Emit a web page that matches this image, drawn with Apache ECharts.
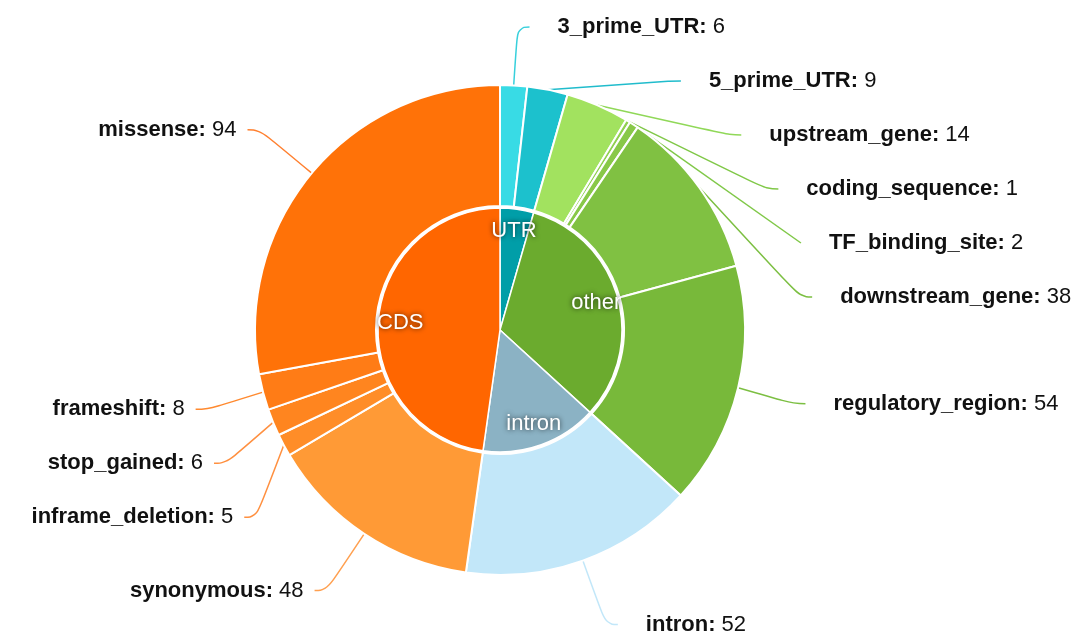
<!DOCTYPE html>
<html>
<head>
<meta charset="utf-8">
<script src="https://cdn.jsdelivr.net/npm/echarts@6/dist/echarts.min.js"></script>
<style>
  html, body { margin: 0; padding: 0; background: #fff; }
  #chart { width: 1083px; height: 642px; }
</style>
</head>
<body>
<div id="chart"></div>
<script>
// Variant consequence groups (inner ring)
const groupNames = ['UTR', 'other', 'intron', 'CDS'];
const groupColors = ['#009ea8', '#6bab2e', '#8bb2c4', '#ff6600'];

// Individual consequences (outer ring), clockwise from 12 o'clock
const consequenceNames = [
  '3_prime_UTR', '5_prime_UTR',
  'upstream_gene', 'coding_sequence', 'TF_binding_site', 'downstream_gene', 'regulatory_region',
  'intron',
  'synonymous', 'inframe_deletion', 'stop_gained', 'frameshift', 'missense'
];
const consequenceCounts = [6, 9, 14, 1, 2, 38, 54, 52, 48, 5, 6, 8, 94];
const consequenceGroup = [0, 0, 1, 1, 1, 1, 1, 2, 3, 3, 3, 3, 3];
const consequenceColors = [
  '#38dbe5', '#1cc1cd',
  '#a2e25f', '#90d050', '#88c848', '#80c142', '#78b93a',
  '#c2e7f9',
  '#ff9a36', '#ff8d28', '#ff851f', '#ff7c16', '#ff7208'
];
const lineColors = [
  '#38d0dc', '#20bccc',
  '#90d858', '#80c848', '#80c848', '#7cbf42', '#7cbf42',
  '#c2e7f9',
  '#ffa050', '#ff9040', '#ff9040', '#ff8a30', '#ff8030'
];

// Group totals summed from the consequences
const groupTotals = groupNames.map((_, g) =>
  consequenceCounts.reduce((s, v, i) => s + (consequenceGroup[i] === g ? v : 0), 0));

const innerData = groupNames.map((n, i) => ({
  name: n, value: groupTotals[i], itemStyle: { color: groupColors[i] }
}));
const outerData = consequenceNames.map((n, i) => ({
  name: n, value: consequenceCounts[i],
  itemStyle: { color: consequenceColors[i] },
  labelLine: { lineStyle: { color: lineColors[i] } }
}));

const chart = echarts.init(document.getElementById('chart'), null, { renderer: 'canvas' });
const FONT = '"Liberation Sans", Arial, Helvetica, sans-serif';

// Layout box a little taller than the page so outer labels may sit near the edges
const box = { left: 0, top: -40, width: 1083, height: 722 };
const center = [500, 370];

chart.setOption({
  animation: false,
  backgroundColor: '#ffffff',
  series: [
    Object.assign({
      type: 'pie',
      center: center,
      radius: [0, 122],
      startAngle: 90,
      clockwise: true,
      silent: true,
      label: { show: false },
      labelLine: { show: false },
      itemStyle: { borderColor: '#ffffff', borderWidth: 1.5 },
      data: innerData
    }, box),
    Object.assign({
      // label carrier for the inner ring, placed toward its rim
      type: 'pie',
      center: center,
      radius: [72, 122],
      startAngle: 90,
      clockwise: true,
      silent: true,
      z: 5,
      itemStyle: { color: 'rgba(0,0,0,0)', borderWidth: 0 },
      label: {
        show: true,
        position: 'inside',
        color: '#ffffff',
        fontFamily: FONT,
        fontSize: 22,
        textShadowColor: 'rgba(0,0,0,0.75)',
        textShadowBlur: 5,
        formatter: '{b}'
      },
      labelLine: { show: false },
      data: groupNames.map((n, i) => ({ name: n, value: groupTotals[i] }))
    }, box),
    Object.assign({
      type: 'pie',
      center: center,
      radius: [124, 245],
      startAngle: 90,
      clockwise: true,
      silent: true,
      avoidLabelOverlap: true,
      minShowLabelAngle: 0,
      itemStyle: { borderColor: '#ffffff', borderWidth: 2 },
      label: {
        show: true,
        position: 'outside',
        alignTo: 'none',
        fontFamily: FONT,
        fontSize: 22,
        color: '#111',
        lineHeight: 52,
        padding: [0, 0, 0, 17],
        distanceToLabelLine: 11,
        formatter: '{n|{b}:} {v|{c}}',
        rich: {
          n: { fontFamily: FONT, fontSize: 22, fontWeight: 'bold', color: '#111', lineHeight: 52 },
          v: { fontFamily: FONT, fontSize: 22, color: '#111', lineHeight: 52 }
        }
      },
      labelLine: {
        show: true,
        length: 68,
        length2: 12,
        smooth: 0.5,
        lineStyle: { width: 1.5 }
      },
      data: outerData
    }, box)
  ]
});
</script>
</body>
</html>
